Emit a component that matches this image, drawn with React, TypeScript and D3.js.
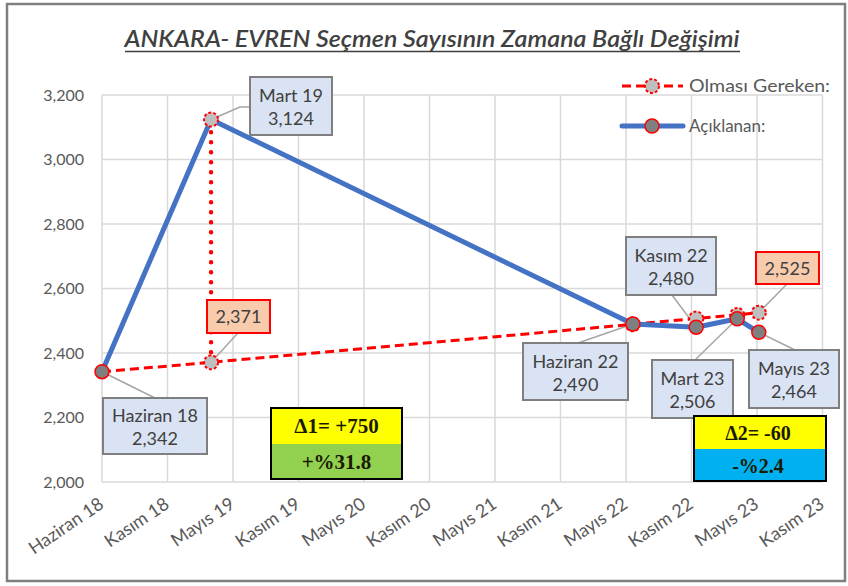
import React from 'react';
import * as d3 from 'd3';

// ---------- data ----------
const xTickLabels = ['Haziran 18', 'Kasım 18', 'Mayıs 19', 'Kasım 19', 'Mayıs 20', 'Kasım 20', 'Mayıs 21', 'Kasım 21', 'Mayıs 22', 'Kasım 22', 'Mayıs 23', 'Kasım 23'];
const yTickValues = [2000, 2200, 2400, 2600, 2800, 3000, 3200];

const pointNames = ['Haziran 18', 'Mart 19', 'Haziran 22', 'Kasım 22', 'Mart 23', 'Mayıs 23'];
const pointDates = ['2018-06-01', '2019-03-31', '2022-06-15', '2022-12-08', '2023-04-01', '2023-05-31'];
const announcedValues = [2342, 3124, 2490, 2480, 2506, 2464]; // Açıklanan
const expectedValues = [2342, 2371, 2489, 2507, 2518, 2525]; // Olması Gereken
const jumpValues = [2371, 3124]; // vertical dotted jump at Mart 19

const deltaTexts1 = ['Δ1= +750', '+%31.8'];
const deltaTexts2 = ['Δ2= -60', '-%2.4'];

const seriesNames = ['Olması Gereken:', 'Açıklanan:'];

// ---------- layout (pixels) ----------
const W = 848;
const H = 586;
const plot = { left: 102, right: 822.5, top: 95, bottom: 482 };

const blueCallouts = [
  { i: 0, bx: 103, by: 398, bw: 104, bh: 56, lx: 155, ly: 398 },
  { i: 1, bx: 250, by: 77, bw: 82, bh: 58, lx: 250, ly: 107, elbow: [240, 107] },
  { i: 2, bx: 523, by: 343, bw: 105, bh: 57, lx: 578, ly: 343 },
  { i: 3, bx: 626, by: 237, bw: 90, bh: 58, lx: 672, ly: 295 },
  { i: 4, bx: 652, by: 360, bw: 81, bh: 58, lx: 695, ly: 360 },
  { i: 5, bx: 749, by: 350, bw: 90, bh: 58, lx: 795, ly: 350 },
];
const redCallouts = [
  { i: 1, bx: 207, by: 300, bw: 63, bh: 33, lx: 238, ly: 333 },
  { i: 5, bx: 756, by: 252, bw: 63, bh: 32, lx: 787, ly: 284 },
];

const FONT = 'Lato, "Open Sans", "Noto Sans", sans-serif';
const SERIF = '"Liberation Serif", "DejaVu Serif", serif';

const parse = d3.utcParse('%Y-%m-%d');
const startDate = parse('2018-06-01') as Date;
const tickStepDays = 182;
const tickDates = xTickLabels.map((_, i) => d3.utcDay.offset(startDate, i * tickStepDays));
const endDate = tickDates[tickDates.length - 1];

export default function App() {
  const x = d3.scaleUtc().domain([startDate, endDate]).range([plot.left, plot.right]);
  const y = d3.scaleLinear().domain([2000, 3200]).range([plot.bottom, plot.top]);
  const fmt = d3.format(',');

  const dates = pointDates.map((d) => parse(d) as Date);
  const blue = dates.map((d, i) => ({ d, v: announcedValues[i] }));
  const red = dates.map((d, i) => ({ d, v: expectedValues[i] }));
  const jump = jumpValues.map((v) => ({ d: dates[1], v }));

  const line = d3
    .line<{ d: Date; v: number }>()
    .x((p) => x(p.d))
    .y((p) => y(p.v));

  const blueColor = '#4472C4';
  const red0 = '#FF0000';

  const expMarker = (cx: number, cy: number, key: string) => (
    <circle key={key} cx={cx} cy={cy} r={7} fill="#BFBFBF" stroke={red0} strokeWidth={2} strokeDasharray="3 2" />
  );
  const annMarker = (cx: number, cy: number, key: string) => (
    <circle key={key} cx={cx} cy={cy} r={7} fill="#7F7F7F" stroke={red0} strokeWidth={1.5} />
  );

  return (
    <svg
      width={W}
      height={H}
      style={{ position: 'absolute', left: 0, top: 0, background: '#fff' }}
      fontFamily={FONT}
    >
      <rect x={0} y={0} width={W} height={H} fill="#fff" />
      <rect x={7} y={4} width={838} height={577} fill="#fff" stroke="#7F7F7F" strokeWidth={2.5} />

      {/* title */}
      <text
        x={432}
        y={47}
        textAnchor="middle"
        fontSize={22}
        fontStyle="italic"
        fontWeight={600}
        fill="#404040"
        textLength={615}
        lengthAdjust="spacingAndGlyphs"
      >
        ANKARA- EVREN Seçmen Sayısının Zamana Bağlı Değişimi
      </text>
      <line x1={125} x2={740} y1={51.5} y2={51.5} stroke="#404040" strokeWidth={1.5} />

      {/* grid */}
      {yTickValues.map((v) => (
        <line key={'gy' + v} x1={plot.left} x2={plot.right} y1={y(v)} y2={y(v)} stroke="#D9D9D9" strokeWidth={1.5} />
      ))}
      {tickDates.map((d, i) => (
        <line key={'gx' + i} x1={x(d)} x2={x(d)} y1={plot.top} y2={plot.bottom} stroke="#D9D9D9" strokeWidth={1.5} />
      ))}

      {/* y tick labels */}
      {yTickValues.map((v) => (
        <text key={'ty' + v} x={84} y={y(v) + 5.5} textAnchor="end" fontSize={16} fill="#595959">
          {fmt(v)}
        </text>
      ))}

      {/* x tick labels */}
      {tickDates.map((d, i) => (
        <g key={'tx' + i} transform={`translate(${x(d) + 3},${507})`}>
          <text transform="rotate(-34)" textAnchor="end" fontSize={18} fill="#595959">
            {xTickLabels[i]}
          </text>
        </g>
      ))}

      {/* leader lines */}
      {blueCallouts.map((c) => {
        const px = x(dates[c.i]);
        const py = y(announcedValues[c.i]);
        const pts = c.elbow ? `${px},${py} ${c.elbow[0]},${c.elbow[1]} ${c.lx},${c.ly}` : `${px},${py} ${c.lx},${c.ly}`;
        return <polyline key={'lb' + c.i} points={pts} fill="none" stroke="#A6A6A6" strokeWidth={1.5} />;
      })}
      {redCallouts.map((c) => {
        const px = x(dates[c.i]);
        const py = y(expectedValues[c.i]);
        return <line key={'lr' + c.i} x1={px} y1={py} x2={c.lx} y2={c.ly} stroke="#A6A6A6" strokeWidth={1.5} />;
      })}

      {/* expected (dashed red) */}
      <path d={line(red) || ''} fill="none" stroke={red0} strokeWidth={3} strokeDasharray="9 5" />
      <path d={line(jump) || ''} fill="none" stroke={red0} strokeWidth={4.5} strokeLinecap="round" strokeDasharray="0 10" />
      {red.map((p, i) => (i === 0 ? null : expMarker(x(p.d), y(p.v), 'em' + i)))}

      {/* announced (blue) */}
      <path d={line(blue) || ''} fill="none" stroke={blueColor} strokeWidth={5} strokeLinejoin="round" />
      {blue.map((p, i) => (i === 1 ? null : annMarker(x(p.d), y(p.v), 'am' + i)))}
      {expMarker(x(dates[1]), y(announcedValues[1]), 'topjump')}

      {/* callout boxes */}
      {blueCallouts.map((c) => (
        <g key={'cb' + c.i}>
          <rect x={c.bx} y={c.by} width={c.bw} height={c.bh} fill="#DAE3F3" stroke="#7F7F7F" strokeWidth={2} />
          <text x={c.bx + c.bw / 2} y={c.by + c.bh / 2 - 4} textAnchor="middle" fontSize={18} fill="#404040">
            {pointNames[c.i]}
          </text>
          <text x={c.bx + c.bw / 2} y={c.by + c.bh / 2 + 19} textAnchor="middle" fontSize={18} fill="#404040">
            {fmt(announcedValues[c.i])}
          </text>
        </g>
      ))}
      {redCallouts.map((c) => (
        <g key={'cr' + c.i}>
          <rect x={c.bx} y={c.by} width={c.bw} height={c.bh} fill="#F8CBAD" stroke={red0} strokeWidth={2} />
          <text x={c.bx + c.bw / 2} y={c.by + c.bh / 2 + 6.5} textAnchor="middle" fontSize={18} fill="#404040">
            {fmt(expectedValues[c.i])}
          </text>
        </g>
      ))}

      {/* legend */}
      <line x1={622} x2={683} y1={86} y2={86} stroke={red0} strokeWidth={3} strokeDasharray="9 5" />
      {expMarker(652, 86, 'leg1')}
      <text x={689} y={92} fontSize={17} fill="#595959" textLength={141} lengthAdjust="spacingAndGlyphs">
        {seriesNames[0]}
      </text>
      <line x1={622} x2={683} y1={126} y2={126} stroke={blueColor} strokeWidth={5} strokeLinecap="round" />
      {annMarker(652, 126, 'leg2')}
      <text x={689} y={132} fontSize={17} fill="#595959">
        {seriesNames[1]}
      </text>

      {/* delta box 1 */}
      <g>
        <rect x={271} y={408} width={131} height={36} fill="#FFFF00" />
        <rect x={271} y={444} width={131} height={35} fill="#92D050" />
        <rect x={271} y={408} width={131} height={71} fill="none" stroke="#000" strokeWidth={2} />
        <text x={336.5} y={433} textAnchor="middle" fontFamily={SERIF} fontWeight="bold" fontSize={21} fill="#1a1a00">
          {deltaTexts1[0]}
        </text>
        <text x={336.5} y={469} textAnchor="middle" fontFamily={SERIF} fontWeight="bold" fontSize={21} fill="#1a1a00">
          {deltaTexts1[1]}
        </text>
      </g>
      {/* delta box 2 */}
      <g>
        <rect x={694} y={416} width={132} height={33} fill="#FFFF00" />
        <rect x={694} y={449} width={132} height={32} fill="#00B0F0" />
        <rect x={694} y={416} width={132} height={65} fill="none" stroke="#000" strokeWidth={2} />
        <text x={758} y={440} textAnchor="middle" fontFamily={SERIF} fontWeight="bold" fontSize={20} fill="#1a1a00">
          {deltaTexts2[0]}
        </text>
        <text x={758} y={473} textAnchor="middle" fontFamily={SERIF} fontWeight="bold" fontSize={20} fill="#1a1a00">
          {deltaTexts2[1]}
        </text>
      </g>
    </svg>
  );
}
